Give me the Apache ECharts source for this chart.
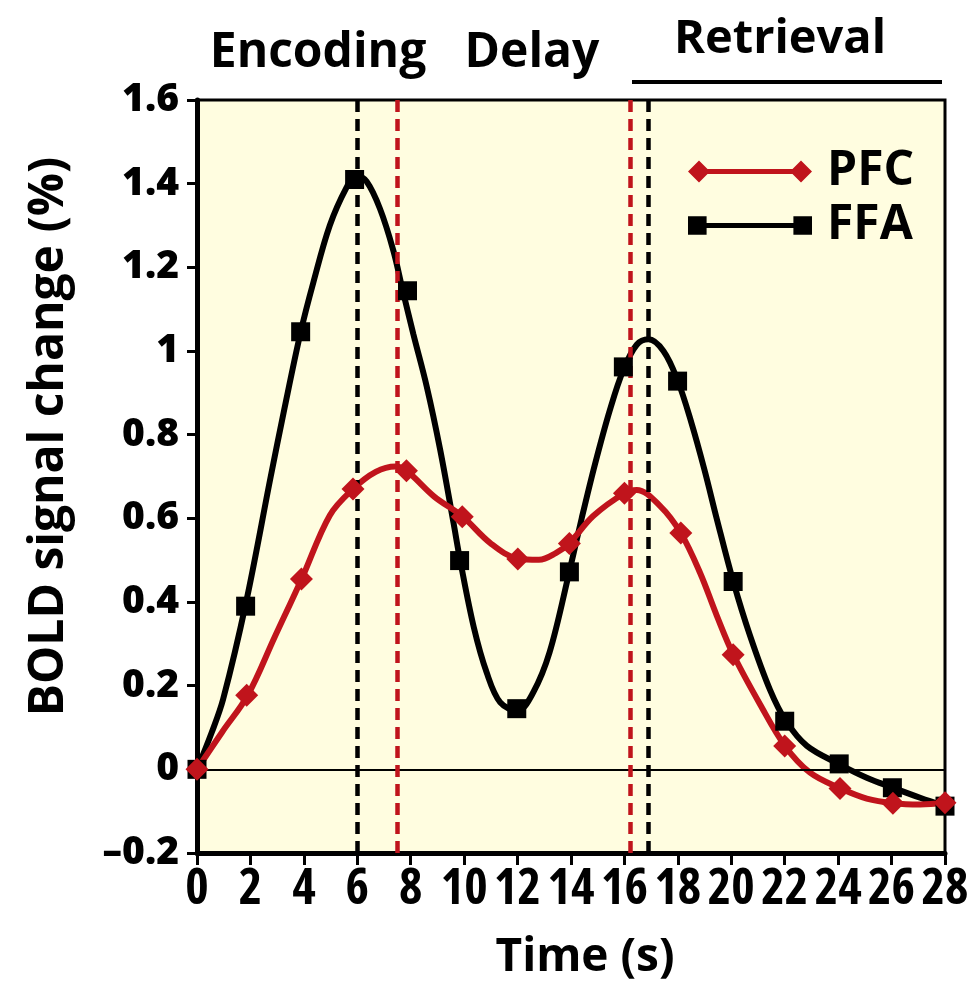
<!DOCTYPE html>
<html>
<head>
<meta charset="utf-8">
<script src="https://cdn.jsdelivr.net/npm/echarts@6/dist/echarts.min.js"></script>
<style>
  html, body { margin: 0; padding: 0; background: #ffffff; }
  #chart { width: 980px; height: 1000px; }
</style>
</head>
<body>
<div id="chart"></div>
<script>
// ---- Data ----
const seriesNames = ['PFC', 'FFA'];
const phaseLabels = ['Encoding', 'Delay', 'Retrieval'];
const xTicks = [0, 2, 4, 6, 8, 10, 12, 14, 16, 18, 20, 22, 24, 26, 28];
const yTicks = [-0.2, 0, 0.2, 0.4, 0.6, 0.8, 1, 1.2, 1.4, 1.6];

// measured sample points (time s, BOLD %)
const pfcMarkerTime = [0, 1.86, 3.91, 5.84, 7.84, 9.93, 12.01, 13.94, 16.0, 18.11, 20.07, 22.0, 24.07, 26.05, 28];
const pfcMarkerValue = [0, 0.177, 0.455, 0.67, 0.714, 0.604, 0.503, 0.54, 0.66, 0.565, 0.274, 0.056, -0.046, -0.081, -0.08];
const ffaMarkerTime = [0, 1.82, 3.88, 5.9, 7.88, 9.83, 11.97, 13.94, 15.96, 17.99, 20.07, 22.0, 24.04, 26.03, 28];
const ffaMarkerValue = [0, 0.39, 1.046, 1.41, 1.144, 0.499, 0.145, 0.472, 0.962, 0.928, 0.449, 0.115, 0.013, -0.044, -0.088];

// fitted curves
const pfcCurveTime = [0, 0.95, 1.9, 2.9, 3.93, 4.97, 5.84, 6.69, 7.43, 7.84, 8.88, 9.93, 10.98, 12.0, 12.8, 13.43, 13.94, 14.84, 16.0, 16.46, 17.33, 18.1, 18.83, 19.46, 20.07, 21.08, 22.01, 22.95, 24.1, 25.07, 26.07, 27.07, 28];
const pfcCurveValue = [0, 0.09, 0.177, 0.315, 0.457, 0.607, 0.67, 0.711, 0.724, 0.714, 0.652, 0.605, 0.541, 0.504, 0.501, 0.517, 0.541, 0.606, 0.66, 0.668, 0.63, 0.566, 0.47, 0.367, 0.275, 0.155, 0.056, -0.008, -0.046, -0.07, -0.081, -0.084, -0.08];
const ffaCurveTime = [0, 0.55, 0.98, 1.84, 2.76, 3.25, 3.88, 4.36, 4.97, 5.59, 5.96, 6.35, 6.85, 7.35, 7.7, 8.1, 8.6, 9.1, 9.6, 9.85, 10.36, 10.85, 11.35, 12.0, 12.58, 13.2, 13.94, 14.4, 14.9, 15.46, 15.96, 16.46, 16.9, 17.46, 17.99, 18.5, 19.0, 19.46, 20.07, 20.7, 21.45, 22.05, 22.83, 24.05, 25.07, 26.05, 27.07, 28];
const ffaCurveValue = [0, 0.088, 0.168, 0.40, 0.70, 0.855, 1.045, 1.165, 1.30, 1.39, 1.42, 1.405, 1.34, 1.24, 1.145, 1.04, 0.915, 0.765, 0.59, 0.50, 0.34, 0.23, 0.16, 0.14, 0.183, 0.28, 0.473, 0.60, 0.73, 0.86, 0.955, 1.015, 1.028, 1.0, 0.93, 0.83, 0.715, 0.598, 0.45, 0.32, 0.19, 0.115, 0.056, 0.012, -0.02, -0.044, -0.068, -0.088];

// peak-time reference lines
const peakTimeFFA = [6, 16.9];
const peakTimePFC = [7.5, 16.2];

const RED = '#C0141C';
const BLACK = '#000000';

const zip = (a, b) => a.map((v, i) => [v, b[i]]);

const chart = echarts.init(document.getElementById('chart'), null, { renderer: 'canvas' });

const diamondIcon = 'path://M0 11 L11 0 L22 11 L11 22 Z M11 8.5 L113 8.5 L113 13.5 L11 13.5 Z M102 11 L113 0 L124 11 L113 22 Z';
const squareIcon = 'path://M2 2 L20 2 L20 20 L2 20 Z M20 8.5 L104 8.5 L104 13.5 L20 13.5 Z M104 2 L122 2 L122 20 L104 20 Z';

function yFmt(v) {
  if (Math.abs(v) < 1e-9) return '0';
  if (Math.abs(v - 1) < 1e-9) return '1';
  if (v < 0) return '\u2013' + Math.abs(v).toFixed(1);
  return v.toFixed(1);
}

const dashed = { type: [12, 7], width: 4.5 };

const option = {
  backgroundColor: '#ffffff',
  animation: false,
  grid: {
    left: 197, top: 100, right: 35, bottom: 147,
    show: true,
    backgroundColor: '#FFFDE0',
    borderColor: '#000',
    borderWidth: 3
  },
  legend: {
    orient: 'vertical',
    left: 683,
    top: 141,
    itemWidth: 124,
    itemHeight: 22,
    itemGap: 3,
    selectedMode: false,
    textStyle: { fontFamily: 'Open Sans', fontWeight: 'bold', fontSize: 48, lineHeight: 51, color: '#000', padding: [0, 0, 0, 10] },
    data: [
      { name: seriesNames[0], icon: diamondIcon, itemStyle: { color: RED, opacity: 1 } },
      { name: seriesNames[1], icon: squareIcon, itemStyle: { color: BLACK, opacity: 1 } }
    ]
  },
  xAxis: {
    type: 'value',
    min: 0, max: 28, interval: 2,
    name: 'Time (s)',
    nameLocation: 'middle',
    nameGap: 82,
    nameTextStyle: { fontFamily: 'Open Sans', fontWeight: 'bold', fontSize: 46, color: '#000', padding: [0, 0, 0, 28] },
    axisLine: { show: true, onZero: false, lineStyle: { color: '#000', width: 5 } },
    axisTick: { show: true, length: 12, lineStyle: { color: '#000', width: 3 } },
    axisLabel: {
      margin: 12,
      showMinLabel: true,
      showMaxLabel: true,
      hideOverlap: false,
      fontFamily: 'Open Sans',
      fontWeight: 'bold condensed',
      fontSize: 50, color: '#000'
    },
    splitLine: { show: false }
  },
  yAxis: {
    type: 'value',
    min: -0.2, max: 1.6, interval: 0.2,
    name: 'BOLD signal change (%)',
    nameLocation: 'middle',
    nameGap: 124,
    nameTextStyle: { fontFamily: 'Open Sans', fontWeight: 'bold', fontSize: 48, color: '#000', padding: [0, 0, 0, 80] },
    axisLine: { show: true, onZero: false, lineStyle: { color: '#000', width: 5 } },
    axisTick: { show: true, length: 10, lineStyle: { color: '#000', width: 3 } },
    axisLabel: {
      margin: 18,
      fontFamily: 'Open Sans', fontWeight: 800, fontSize: 39, color: '#000',
      formatter: yFmt
    },
    splitLine: { show: false }
  },
  graphic: [
    { type: 'text', style: { text: phaseLabels[0], x: 318, y: 53, textAlign: 'center', textVerticalAlign: 'middle', font: 'bold 48px "Open Sans"', fill: '#000' } },
    { type: 'text', style: { text: phaseLabels[1], x: 532, y: 53, textAlign: 'center', textVerticalAlign: 'middle', font: 'bold 48px "Open Sans"', fill: '#000' } },
    { type: 'text', style: { text: phaseLabels[2], x: 780, y: 40, textAlign: 'center', textVerticalAlign: 'middle', font: 'bold 47px "Open Sans"', fill: '#000' } },
    { type: 'line', shape: { x1: 632, y1: 82, x2: 942, y2: 82 }, style: { stroke: '#000', lineWidth: 4 } }
  ],
  series: [
    {
      name: 'guides',
      type: 'line',
      data: [],
      z: 1,
      silent: true,
      markLine: {
        silent: true,
        symbol: 'none',
        label: { show: false },
        animation: false,
        data: [
          { yAxis: 0, lineStyle: { color: '#000', width: 2, type: 'solid' } },
          { xAxis: peakTimeFFA[0], lineStyle: Object.assign({ color: BLACK }, dashed) },
          { xAxis: peakTimePFC[0], lineStyle: Object.assign({ color: RED }, dashed) },
          { xAxis: peakTimePFC[1], lineStyle: Object.assign({ color: RED }, dashed) },
          { xAxis: peakTimeFFA[1], lineStyle: Object.assign({ color: BLACK }, dashed) }
        ]
      }
    },
    {
      name: 'FFA curve',
      type: 'line',
      data: zip(ffaCurveTime, ffaCurveValue),
      smooth: 0.35,
      showSymbol: false,
      z: 3,
      lineStyle: { color: BLACK, width: 6 }
    },
    {
      name: 'PFC curve',
      type: 'line',
      data: zip(pfcCurveTime, pfcCurveValue),
      smooth: 0.35,
      showSymbol: false,
      z: 4,
      lineStyle: { color: RED, width: 6 }
    },
    {
      name: seriesNames[1],
      type: 'scatter',
      data: zip(ffaMarkerTime, ffaMarkerValue),
      symbol: 'rect',
      symbolSize: 19,
      z: 5,
      itemStyle: { color: BLACK, opacity: 1 }
    },
    {
      name: seriesNames[0],
      type: 'scatter',
      data: zip(pfcMarkerTime, pfcMarkerValue),
      symbol: 'diamond',
      symbolSize: 23,
      z: 6,
      itemStyle: { color: RED, opacity: 1 }
    }
  ]
};

chart.setOption(option);
</script>
</body>
</html>
